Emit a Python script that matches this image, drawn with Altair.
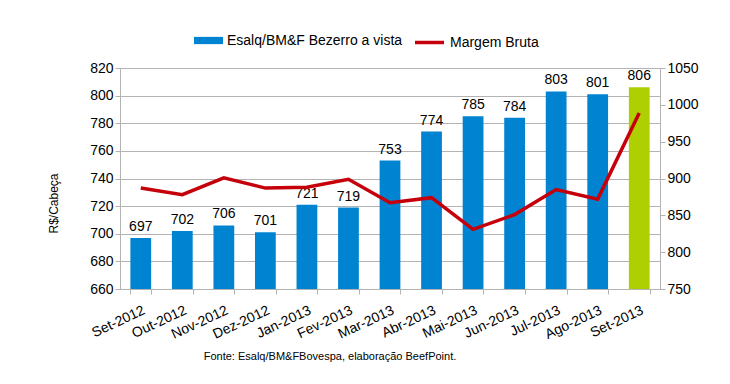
import altair as alt
import pandas as pd

meses = ["Set-2012", "Out-2012", "Nov-2012", "Dez-2012", "Jan-2013", "Fev-2013",
         "Mar-2013", "Abr-2013", "Mai-2013", "Jun-2013", "Jul-2013", "Ago-2013", "Set-2013"]
bezerro = [697, 702, 706, 701, 721, 719, 753, 774, 785, 784, 803, 801, 806]
margem = [887, 878, 901, 887, 888, 899, 867, 874, 831, 851, 885, 872, 989]
serie_barra = "Esalq/BM&F Bezerro a vista"
serie_linha = "Margem Bruta"
destaque = "Destaque"
cores_barra = [serie_barra] * 12 + [destaque]

df = pd.DataFrame({
    "mes": meses,
    "bezerro": bezerro,
    "margem": margem,
    "cor": cores_barra,
    "linha": [serie_linha] * len(meses),
})

FONT = "Liberation Sans"
W, H = 540, 221

xenc = alt.X("mes:N", sort=meses, title=None,
             scale=alt.Scale(paddingInner=0.5, paddingOuter=0.25),
             axis=alt.Axis(labelAngle=-25, labelAlign="right", labelBaseline="top",
                           labelFontSize=14, labelColor="#000000", labelPadding=9,
                           tickBand="extent", tickColor="#b3b3b3", tickSize=5,
                           domainColor="#b3b3b3", grid=False, labelOverlap=False))

yscale_left = alt.Scale(domain=[660, 820], zero=False, nice=False)
yaxis_left = alt.Axis(values=list(range(660, 821, 20)), labelFontSize=14,
                      labelColor="#000000", tickColor="#b3b3b3", tickSize=5,
                      domainColor="#b3b3b3", gridColor="#b3b3b3", labelOverlap=False,
                      titleFontSize=12, titleFontWeight="normal", titleColor="#000000",
                      titleX=-67, titleY=135, titleAngle=-90, titleAlign="center",
                      titleBaseline="middle")

bars = alt.Chart(df).mark_bar().encode(
    x=xenc,
    y=alt.Y("bezerro:Q", title="R$/Cabeça", scale=yscale_left, axis=yaxis_left),
    y2=alt.datum(660),
    color=alt.Color("cor:N",
                    scale=alt.Scale(domain=[serie_barra, destaque], range=["#0084d1", "#aecf00"]),
                    legend=alt.Legend(title=None, values=[serie_barra], orient="none",
                                      legendX=74, legendY=-42, labelLimit=0,
                                      symbolType="M-1,-0.25H1V0.25H-1Z", symbolSize=841,
                                      symbolStrokeWidth=0, labelFontSize=14,
                                      labelColor="#000000", labelFont=FONT)),
)

labels = alt.Chart(df).mark_text(baseline="bottom", dy=-4, fontSize=14, color="#000000",
                                 font=FONT).encode(
    x=alt.X("mes:N", sort=meses),
    y=alt.Y("bezerro:Q", title="R$/Cabeça", scale=yscale_left, axis=yaxis_left),
    text=alt.Text("bezerro:Q"),
)

left = alt.layer(bars, labels)

line = alt.Chart(df).mark_line(strokeWidth=3.5).encode(
    x=alt.X("mes:N", sort=meses),
    y=alt.Y("margem:Q", title=None,
            scale=alt.Scale(domain=[750, 1050], zero=False, nice=False),
            axis=alt.Axis(orient="right", values=list(range(750, 1051, 50)), grid=False,
                          format="d", labelOverlap=False,
                          labelFontSize=14, labelColor="#000000", tickColor="#b3b3b3",
                          tickSize=5, domainColor="#b3b3b3")),
    stroke=alt.Stroke("linha:N", scale=alt.Scale(domain=[serie_linha], range=["#c5000b"]),
                      legend=alt.Legend(title=None, orient="none", legendX=293, legendY=-42,
                                        symbolType="stroke", symbolSize=841, labelLimit=0,
                                        symbolStrokeWidth=3.5, labelFontSize=14,
                                        labelColor="#000000", labelFont=FONT)),
)

chart = alt.layer(left, line).resolve_scale(
    y="independent", color="independent", stroke="independent"
).properties(
    width=W, height=H,
    autosize=alt.AutoSizeParams(type="none"),
    padding={"left": 112, "top": 60, "right": 62, "bottom": 87},
    title=alt.TitleParams("Fonte: Esalq/BM&FBovespa, elaboração BeefPoint.", orient="bottom",
                          anchor="middle", fontSize=11, fontWeight="normal", font=FONT,
                          color="#000000", dx=-60, offset=10),
).configure(font=FONT).configure_view(stroke=None)

chart.save("out.html", embed_options={"renderer": "svg", "actions": False})
